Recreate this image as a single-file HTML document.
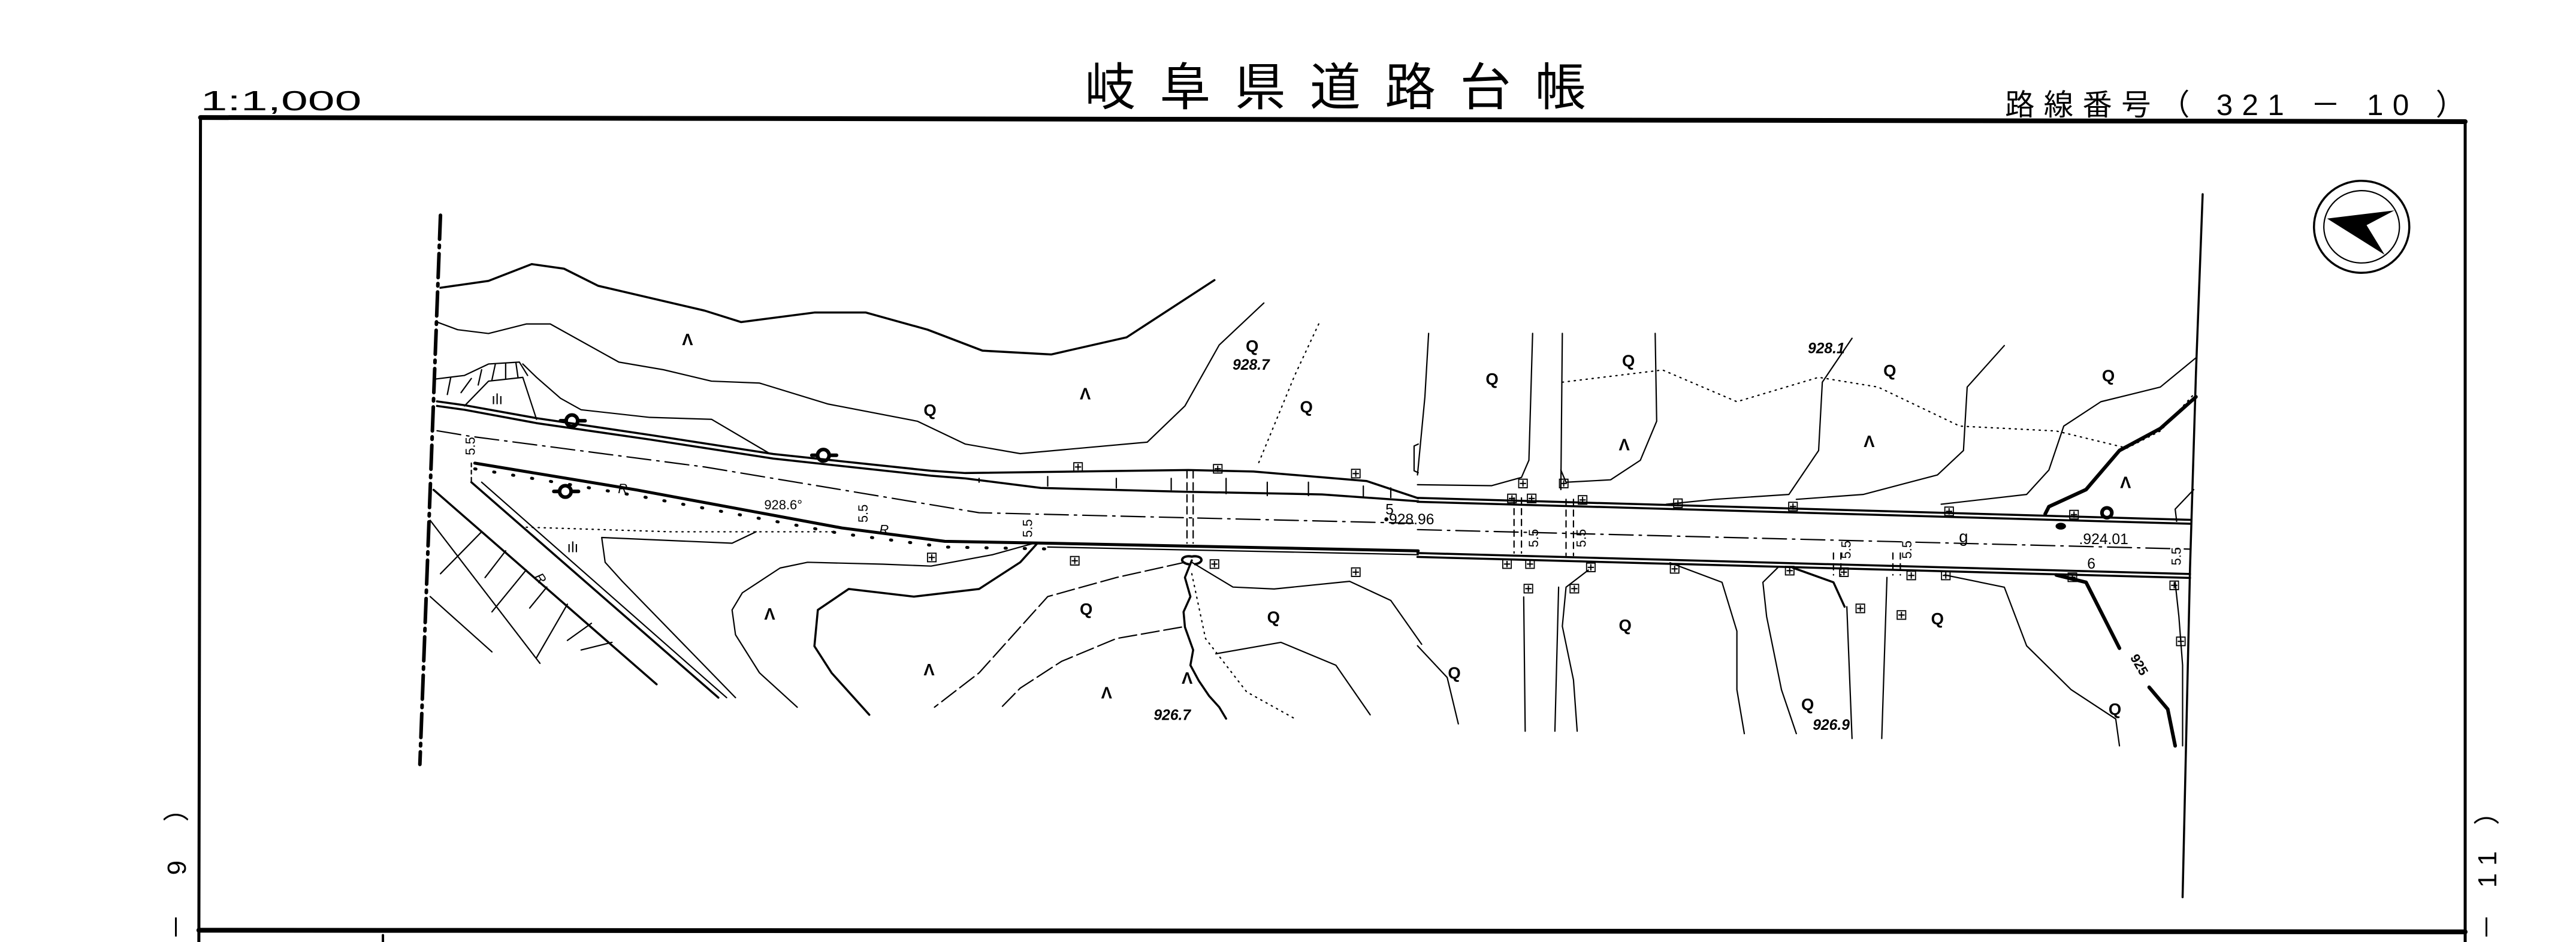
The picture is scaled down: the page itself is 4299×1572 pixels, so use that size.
<!DOCTYPE html>
<html><head><meta charset="utf-8"><style>
html,body{margin:0;padding:0;background:#fff;width:4299px;height:1572px;overflow:hidden}
svg{display:block}
text{font-family:"Liberation Sans","Noto Sans CJK JP",sans-serif;fill:#000}
.s{fill:none;stroke:#000;vector-effect:non-scaling-stroke;stroke-linejoin:round;stroke-linecap:round}
.t1{stroke-width:2.2}.t2{stroke-width:3.5}.t3{stroke-width:6}
.dd{stroke-dasharray:40 10 4 10}
.dot{stroke-dasharray:2 8}
.lb{font-weight:bold;font-size:10px}
.it{font-weight:bold;font-style:italic;font-size:9px}
.m{font-family:"DejaVu Sans",sans-serif;font-size:9px}
</style></head><body>
<svg width="4299" height="1572" viewBox="0 0 4299 1572" xmlns="http://www.w3.org/2000/svg">
<g transform="scale(2.7427,2.7427)">
<!-- header -->
<text x="122" y="67" font-size="17" textLength="98" lengthAdjust="spacingAndGlyphs">1:1,000</text>
<text x="660" y="64" font-size="31" textLength="305" lengthAdjust="spacing">岐阜県道路台帳</text>
<text x="1220" y="70" font-size="18" textLength="280" lengthAdjust="spacing">路線番号（ 321 － 10 ）</text>
<!-- frame -->
<path class="s" d="M122,71.5 L1500,74" style="stroke-width:8"/>
<path class="s" d="M122,72 L121,573" style="stroke-width:5"/>
<path class="s" d="M1500,74 L1500,573" style="stroke-width:5"/>
<path class="s" d="M121,566 L1500,567" style="stroke-width:8"/>
<path class="s" d="M233,569 L233,573" style="stroke-width:4"/>
<text transform="translate(113,572) rotate(-90)" font-size="16" textLength="88" lengthAdjust="spacing">－ 9 ）</text>
<text transform="translate(1519,572) rotate(-90)" font-size="16" textLength="86" lengthAdjust="spacing">－ 11 ）</text>
<!-- north arrow -->
<ellipse class="s t2" cx="1437" cy="138" rx="29" ry="28"/>
<ellipse class="s t1" cx="1437" cy="138" rx="23" ry="22"/>
<polygon points="1416,133 1457,128 1440,137 1451,155" fill="#000"/>

<!-- zoom2 region -->
<g transform="translate(220,107.8) scale(0.4175,0.232)">
<polyline class="s t3 dd" points="115,100 85,1540"/>
<polyline class="s t2" points="115,290 185,272 248,228 295,240 345,285 500,350 553,380 660,355 735,355 825,400 905,455 1005,465 1115,420 1243,270"/>
<polyline class="s t1" points="110,380 140,400 185,410 240,385 275,385 375,485 440,505 510,535 580,540 680,595 810,640 880,700 960,725 1145,695 1200,600 1250,440 1315,330"/>
<polyline class="s t1" points="235,490 255,525 290,580 320,610 420,630 510,635 595,725"/>
<polyline class="s t2" points="110,588 150,598 255,632 420,676 600,726 830,770 880,776 1205,768 1300,772 1465,797 1540,842"/>
<polyline class="s t2" points="110,600 150,610 255,645 420,688 600,738 830,783 880,790 990,815 1200,825 1400,832 1540,850"/>
<polyline class="s t1 dd" points="110,665 160,680 500,760 900,880 1540,908"/>
<polyline class="s" style="stroke-width:5" points="165,750 400,820 700,920 850,955 1000,960 1540,980"/>
<polyline class="s" style="stroke-width:5;stroke-dasharray:2 30" points="165,765 400,835 700,935 850,970 1000,975"/>
<polyline class="s t1" points="1000,970 1540,990"/>
<polyline class="s t1" points="160,750 160,800" style="stroke-dasharray:6 6"/>
<polyline class="s t2" points="160,800 520,1365"/>
<polyline class="s t1" points="175,800 532,1365"/>
<polyline class="s t2" points="105,820 430,1330"/>
<polyline class="s t1" points="100,900 260,1275"/>
<polyline class="s t1" points="100,1100 190,1245"/>
<path class="s t1" d="M175,930 L115,1040 M210,980 L180,1050 M240,1030 L190,1140 M270,1075 L245,1130 M300,1120 L255,1260 M335,1170 L300,1215 M365,1220 L320,1240"/>
<polyline class="s t1 dot" points="240,918 450,930 690,930"/>
<polyline class="s t1" points="575,930 540,960 350,945 355,1010 380,1060 545,1365"/>
<polyline class="s t1" points="980,960 920,990 830,1020 760,1015 650,1010 610,1025 555,1090 540,1135 545,1200 580,1300 635,1390"/>
<polyline class="s t2" points="985,960 960,1010 900,1080 805,1100 710,1080 665,1135 660,1230 685,1300 740,1410"/>
<polyline class="s t1" style="stroke-dasharray:30 8" points="1200,1010 1100,1050 1000,1100 950,1200 900,1300 835,1390"/>
<polyline class="s t1" points="1210,1010 1270,1075 1330,1080 1440,1060 1500,1110 1545,1225"/>
<polyline class="s t1" style="stroke-dasharray:30 8" points="1195,1180 1100,1210 1020,1270 960,1340 930,1395"/>
<polyline class="s t1" points="1245,1250 1340,1220 1420,1280 1470,1410"/>
<polyline class="s t2" points="1210,1005 1200,1050 1208,1100 1198,1140 1200,1180 1212,1240 1208,1280 1220,1320 1235,1360 1250,1390 1260,1420"/>
<polyline class="s t1 dot" points="1210,1040 1230,1210 1290,1350 1360,1420"/>
<polyline class="s t1 dot" points="1395,385 1360,520 1305,760"/>
<polyline class="s t1" style="stroke-dasharray:12 8" points="1203,770 1203,960"/>
<polyline class="s t1" style="stroke-dasharray:12 8" points="1212,770 1212,960"/>
<polyline class="s t1" points="150,600 185,535 235,525 255,635"/>
<polyline class="s t1" points="105,530 150,520 185,490 230,485 242,520"/>
<path class="s t1" d="M160,528 L145,565 M175,505 L170,545 M195,490 L190,532 M210,488 L210,528 M225,487 L228,525 M130,525 L125,570"/>
<polyline class="s t1" points="1540,700 1534,705 1534,770 1540,775"/>
<path class="s t1" d="M900,790 L900,800 M1000,785 L1000,810 M1100,790 L1100,815 M1180,790 L1180,820 M1260,790 L1260,830 M1320,800 L1320,835 M1380,800 L1380,835 M1460,810 L1460,838 M1500,815 L1500,840"/>
<path class="s" style="stroke-width:4" d="M1210,995 C1195,990 1190,1010 1205,1015 M1210,995 C1225,990 1230,1010 1215,1015"/>
</g>

<!-- zoom3 region -->
<g transform="translate(862.5,107.8) scale(0.452,0.297)">
<polyline class="s t2" points="0,657 1040,702"/>
<polyline class="s t2" points="0,665 1040,710"/>
<polyline class="s t2" points="0,770 1040,813"/>
<polyline class="s t2" points="0,778 1040,821"/>
<polyline class="s t1 dd" points="0,722 1040,762"/>
<polyline class="s t1" points="155,320 150,580"/>
<polyline class="s t1" points="195,320 193,640"/>
<polyline class="s t1" points="143,860 145,1135"/>
<polyline class="s t1" points="190,840 185,1135"/>
<polyline class="s t1" points="578,880 585,1150"/>
<polyline class="s t1" points="632,820 625,1150"/>
<polyline class="s t1" points="15,320 10,450 0,610"/>
<polyline class="s t1" points="0,630 100,632 140,615 150,580"/>
<polyline class="s t1" points="320,320 322,500 300,580 260,620 200,625 193,600"/>
<polyline class="s t1" points="585,330 545,420 540,560 500,650 400,660 335,670"/>
<polyline class="s t1" points="790,345 740,430 735,560 700,610 600,650 510,660"/>
<polyline class="s t1" points="1048,370 1000,430 920,460 870,510 850,600 820,650 705,670"/>
<polyline class="s t3" points="1048,450 1000,515 945,560 900,640 850,675 845,690"/>
<polyline class="s t1 dot" points="195,420 330,395 430,460 540,410 620,430 730,510 860,520 955,555 1000,520 1045,445"/>
<polyline class="s t1" points="1045,640 1020,680 1022,705"/>
<polyline class="s t1" points="0,960 40,1025 55,1120"/>
<polyline class="s t1" points="230,805 200,840 195,920 210,1030 215,1135"/>
<polyline class="s t1" points="340,790 410,830 430,930 430,1050 440,1140"/>
<polyline class="s t2" points="505,800 560,830 575,880"/>
<polyline class="s t1" points="485,800 465,830 470,900 490,1050 510,1140"/>
<polyline class="s t1" points="710,815 790,840 820,960 880,1050 940,1110 945,1165"/>
<polyline class="s t3" points="860,815 900,830 930,920 945,965"/>
<polyline class="s t3" points="985,1045 1010,1090 1020,1165"/>
<polyline class="s t1" points="1020,830 1025,900 1030,1000 1030,1165"/>
<polyline class="s t2" points="1057,35 1048,400 1040,800 1030,1475"/>
<path class="s t1" style="stroke-dasharray:10 8" d="M130,657 L130,770 M140,657 L140,770 M200,660 L200,775 M210,660 L210,775 M560,770 L560,815 M570,770 L570,815 M640,770 L640,815 M650,770 L650,815"/>
<circle cx="866" cy="715" r="7" fill="#000"/>
</g>

<!-- labels -->
<g class="lb">
<text x="415" y="210">Λ</text><text x="657" y="243">Λ</text><text x="562" y="253">Q</text>
<text x="758" y="214">Q</text><text x="791" y="251">Q</text>
<text x="465" y="377">Λ</text><text x="657" y="374">Q</text><text x="771" y="379">Q</text>
<text x="562" y="411">Λ</text><text x="670" y="425">Λ</text><text x="719" y="416">Λ</text>
<text x="904" y="234">Q</text><text x="987" y="223">Q</text><text x="985" y="274">Λ</text>
<text x="1146" y="229">Q</text><text x="1134" y="272">Λ</text><text x="1279" y="232">Q</text><text x="1290" y="297">Λ</text>
<text x="985" y="384">Q</text><text x="881" y="413">Q</text><text x="1175" y="380">Q</text>
<text x="1096" y="432">Q</text><text x="1283" y="435">Q</text>
</g>
<text class="it" x="750" y="225">928.7</text>
<text class="it" x="702" y="438">926.7</text>
<text class="it" x="1100" y="215">928.1</text>
<text class="it" x="1103" y="444">926.9</text>
<text x="465" y="310" font-size="8">928.6°</text>
<text x="842" y="319" font-size="9">•928.96</text>
<text x="1265" y="331" font-size="9">.924.01</text>
<text x="1270" y="346" font-size="9">6</text>
<text x="843" y="313" font-size="9">5</text>
<text x="1192" y="330" font-size="10">g</text>
<g font-size="8" font-style="italic"><text x="376" y="300">R</text><text x="535" y="325">R</text><text transform="translate(325,351) rotate(55)">R</text></g>
<g font-size="8">
<text transform="translate(289,277) rotate(-90)">5.5</text>
<text transform="translate(528,318) rotate(-90)">5.5</text>
<text transform="translate(628,327) rotate(-90)">5.5</text>
<text transform="translate(936,333) rotate(-90)">5.5</text>
<text transform="translate(965,333) rotate(-90)">5.5</text>
<text transform="translate(1126,340) rotate(-90)">5.5</text>
<text transform="translate(1163,340) rotate(-90)">5.5</text>
<text transform="translate(1327,344) rotate(-90)">5.5</text>
<text transform="translate(1296,400) rotate(60)" font-weight="bold">925</text>
</g>
<g font-size="9"><text x="299" y="246">ılı</text><text x="345" y="336">ılı</text></g>
<g class="s t1">
<circle cx="348" cy="256" r="3.5"/><path d="M341,256H344M352,256H356"/>
<circle cx="501" cy="277" r="3.5"/><path d="M494,277H497M505,277H509"/>
<circle cx="344" cy="299" r="3.5"/><path d="M337,299H340M348,299H352"/>
<circle cx="1282" cy="312" r="3"/>
</g>
<g class="m" text-anchor="middle">
<text x="656" y="287">⊞</text><text x="741" y="288">⊞</text><text x="825" y="291">⊞</text>
<text x="567" y="342">⊞</text><text x="654" y="344">⊞</text><text x="739" y="346">⊞</text><text x="825" y="351">⊞</text>
<text x="926.7" y="297">⊞</text><text x="951.5" y="297">⊞</text><text x="920" y="306">⊞</text><text x="932" y="306">⊞</text>
<text x="963" y="307">⊞</text><text x="1021" y="309">⊞</text><text x="1091" y="311">⊞</text><text x="1186" y="314">⊞</text><text x="1262" y="316">⊞</text>
<text x="917" y="346">⊞</text><text x="931" y="346">⊞</text><text x="968" y="348">⊞</text><text x="1019" y="349">⊞</text>
<text x="1089" y="350">⊞</text><text x="1122" y="351">⊞</text><text x="1163" y="353">⊞</text><text x="1184" y="353">⊞</text>
<text x="1261" y="354">⊞</text><text x="1323" y="359">⊞</text><text x="930" y="361">⊞</text><text x="958" y="361">⊞</text>
<text x="1132" y="373">⊞</text><text x="1157" y="377">⊞</text><text x="1327" y="393">⊞</text>
</g>
</g>
</svg>
</body></html>
